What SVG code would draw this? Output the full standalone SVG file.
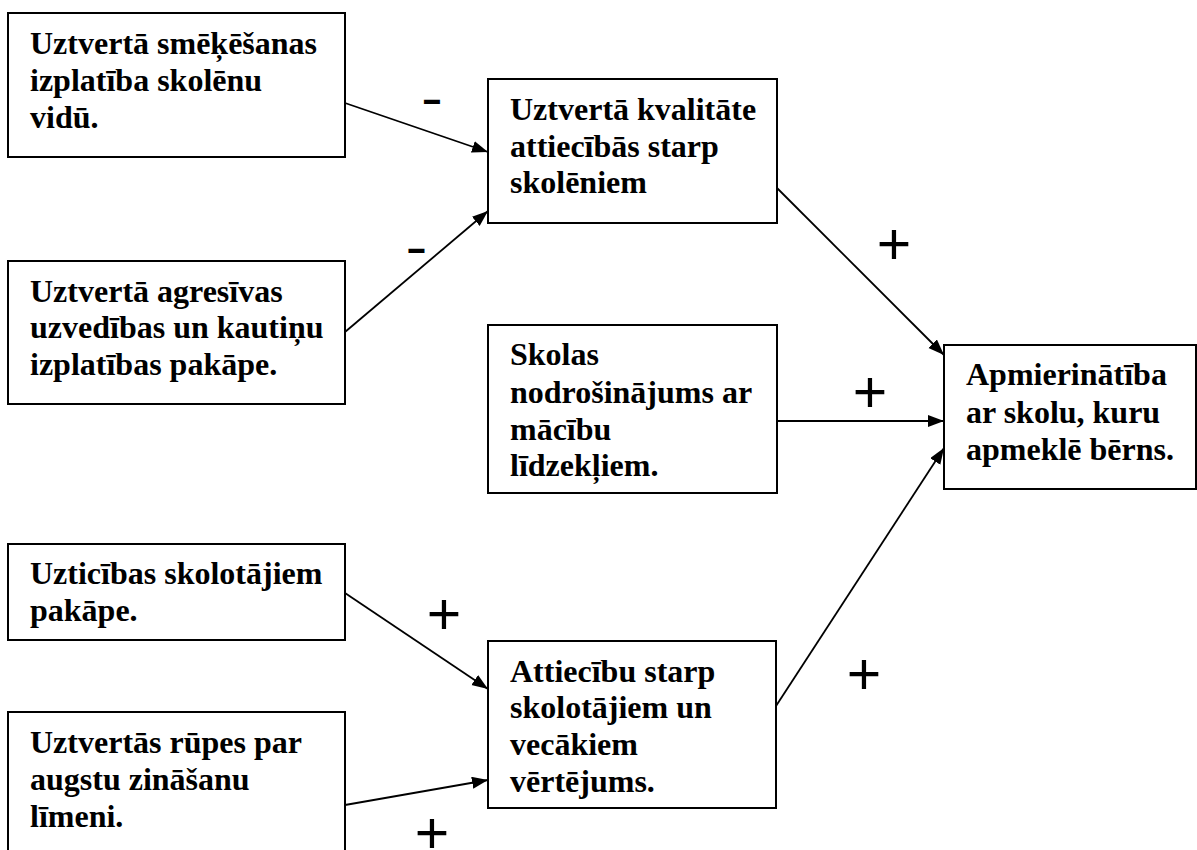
<svg xmlns="http://www.w3.org/2000/svg" width="1197" height="850" viewBox="0 0 1197 850">
<style>
.box{fill:#fff;stroke:#000;stroke-width:2}
.t{font-family:"Liberation Serif","Times New Roman",serif;font-weight:bold;font-size:32px;fill:#000}
.c{stroke:#000;stroke-width:1.8;fill:none;marker-end:url(#ah)}
.plus{font-family:"Liberation Sans",Arial,sans-serif;font-size:59px;fill:#000;text-anchor:middle}
.minus{font-family:"Liberation Sans",Arial,sans-serif;font-weight:bold;font-size:36px;fill:#000;text-anchor:middle}
</style>
<defs>
<marker id="ah" markerUnits="userSpaceOnUse" markerWidth="18" markerHeight="14" refX="16" refY="6" orient="auto">
<path d="M0,0 L16,6 L0,12 Z" fill="#000"/>
</marker>
</defs>
<rect width="1197" height="850" fill="#fff"/>
<g id="n1"><rect class="box" x="8" y="13" width="337" height="144"/>
<text class="t" x="30" y="54">Uztvertā smēķēšanas</text>
<text class="t" x="30" y="91">izplatība skolēnu</text>
<text class="t" x="30" y="128">vidū.</text></g>
<g id="n2"><rect class="box" x="8" y="261" width="337" height="143"/>
<text class="t" x="30" y="302">Uztvertā agresīvas</text>
<text class="t" x="30" y="338">uzvedības un kautiņu</text>
<text class="t" x="30" y="375">izplatības pakāpe.</text></g>
<g id="n3"><rect class="box" x="488" y="79" width="289" height="144"/>
<text class="t" x="510" y="120">Uztvertā kvalitāte</text>
<text class="t" x="510" y="157">attiecībās starp</text>
<text class="t" x="510" y="193">skolēniem</text></g>
<g id="n4"><rect class="box" x="488" y="325" width="289" height="168"/>
<text class="t" x="510" y="365">Skolas</text>
<text class="t" x="510" y="403">nodrošinājums ar</text>
<text class="t" x="510" y="440">mācību</text>
<text class="t" x="510" y="476">līdzekļiem.</text></g>
<g id="n5"><rect class="box" x="944" y="345" width="252" height="144"/>
<text class="t" x="966" y="385">Apmierinātība</text>
<text class="t" x="966" y="423">ar skolu, kuru</text>
<text class="t" x="966" y="460">apmeklē bērns.</text></g>
<g id="n6"><rect class="box" x="8" y="544" width="337" height="96"/>
<text class="t" x="30" y="584">Uzticības skolotājiem</text>
<text class="t" x="30" y="621">pakāpe.</text></g>
<g id="n7"><rect class="box" x="8" y="712" width="337" height="160"/>
<text class="t" x="30" y="753">Uztvertās rūpes par</text>
<text class="t" x="30" y="790">augstu zināšanu</text>
<text class="t" x="30" y="827">līmeni.</text></g>
<g id="n8"><rect class="box" x="488" y="641" width="288" height="167"/>
<text class="t" x="510" y="682">Attiecību starp</text>
<text class="t" x="510" y="718">skolotājiem un</text>
<text class="t" x="510" y="755">vecākiem</text>
<text class="t" x="510" y="792">vērtējums.</text></g>
<g id="connectors">
<line class="c" x1="345" y1="103" x2="488" y2="152"/>
<line class="c" x1="345" y1="332" x2="488" y2="211"/>
<line class="c" x1="777" y1="188" x2="944" y2="355"/>
<line class="c" x1="777" y1="421" x2="944" y2="421"/>
<line class="c" x1="776" y1="706" x2="944" y2="448"/>
<line class="c" x1="345" y1="593" x2="488" y2="689"/>
<line class="c" x1="345" y1="805" x2="488" y2="780"/>
</g>
<g id="labels">
<text class="minus" transform="translate(432,111) scale(1.75,1)">-</text>
<text class="minus" transform="translate(416.5,260) scale(1.75,1)">-</text>
<text class="plus" x="894" y="264">+</text>
<text class="plus" x="870" y="412">+</text>
<text class="plus" x="864" y="694">+</text>
<text class="plus" x="444" y="634">+</text>
<text class="plus" x="432" y="853">+</text>
</g>
</svg>
